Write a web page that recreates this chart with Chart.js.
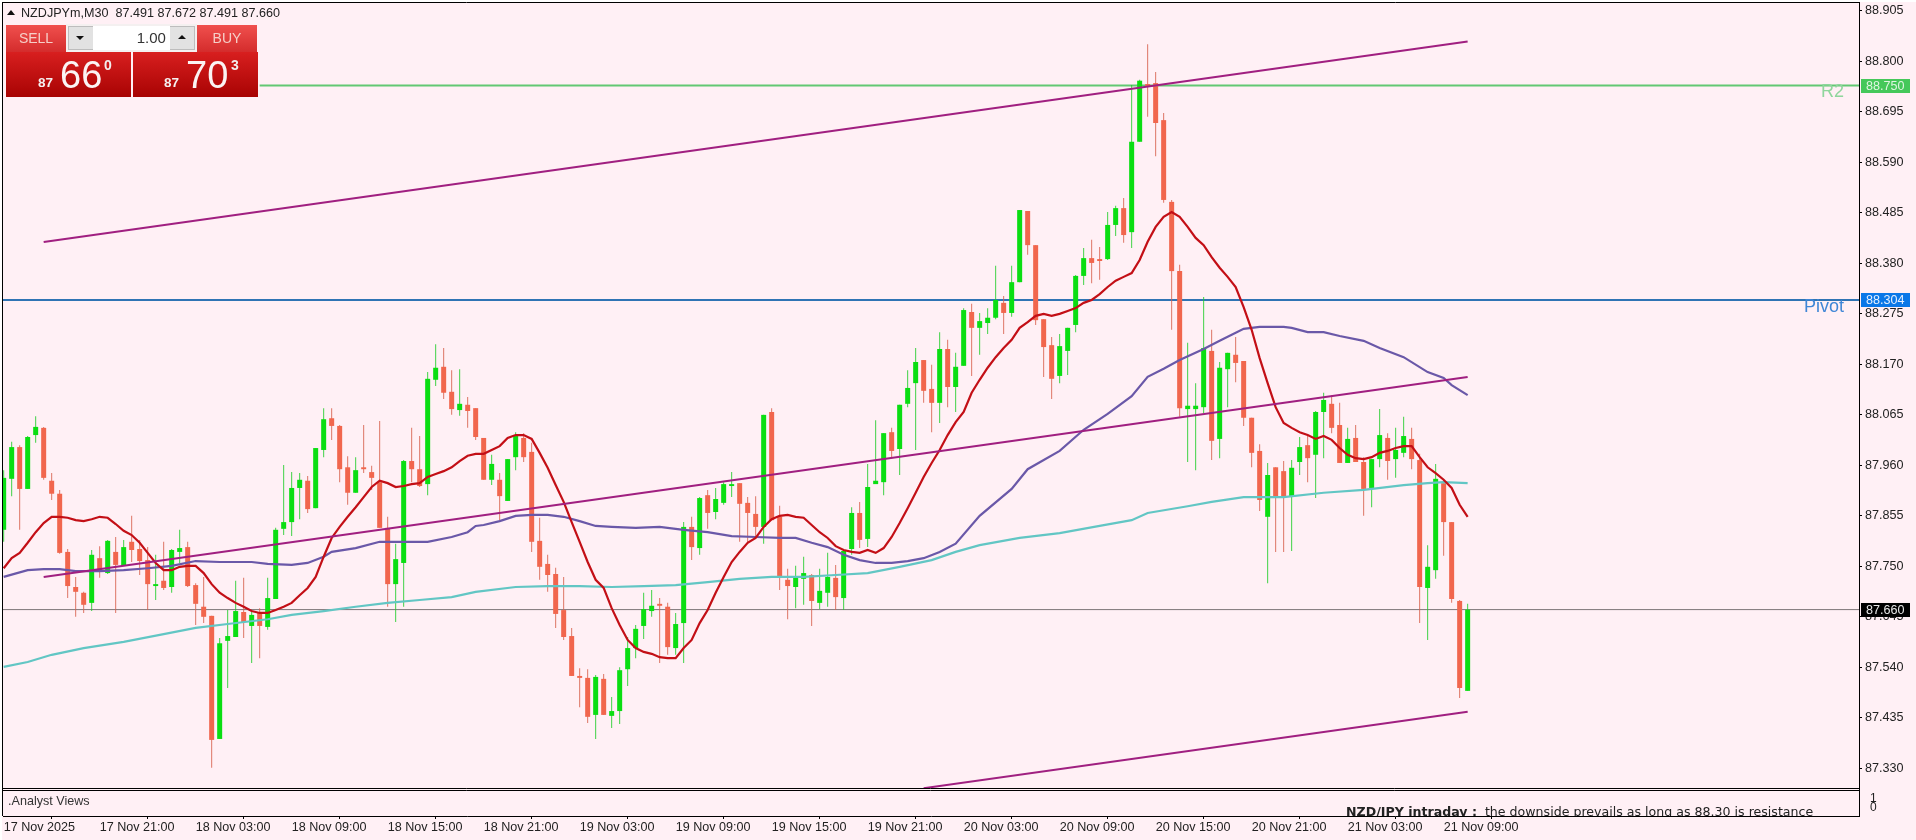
<!DOCTYPE html>
<html><head><meta charset="utf-8">
<script src="https://cdn.jsdelivr.net/npm/chart.js@4/dist/chart.umd.min.js"></script>
<style>
html,body{margin:0;padding:0;width:1916px;height:840px;overflow:hidden;background:#fff0f5;font-family:"Liberation Sans",Arial,sans-serif}
canvas{position:absolute;left:0;top:0}
.abs{position:absolute;white-space:pre}
.stripT{left:0;top:0;width:1916px;height:2px;background:#fff}
.stripL{left:0;top:0;width:2px;height:840px;background:#fff}
.title{left:21px;top:5px;font-size:12.6px;color:#222;line-height:16px}
.tri{left:7px;top:10px;width:0;height:0;border-left:4.5px solid transparent;border-right:4.5px solid transparent;border-bottom:5px solid #111}
.btnTop{background:linear-gradient(#f0504e,#d42c2c);color:#f6cfc8;font-size:14px;text-align:center;line-height:27px;height:27px;width:60px;top:25px}
.big{background:linear-gradient(#d81f1f,#a80303);height:45px;width:125px;top:52px;color:#fff}
.grey{left:66px;top:24px;width:131px;height:28px;background:#f4f0f0}
.ctl{left:68px;top:26px;width:127px;height:24px;background:#e2e2e2;border:1px solid #bdbdbd;box-sizing:border-box}
.val{left:93px;top:26px;width:77px;height:24px;background:#fff;text-align:right;font-size:15px;line-height:24px;color:#333}
.up{width:0;height:0;border-left:4px solid transparent;border-right:4px solid transparent;border-bottom:4px solid #111;left:178px;top:35px}
.dn{width:0;height:0;border-left:4px solid transparent;border-right:4px solid transparent;border-top:4px solid #111;left:76px;top:36px}
.b87{font-size:13.5px;font-weight:bold;color:#f5f0f0;top:75px}
.n66{font-size:38px;color:#fbf4f4;top:52px;line-height:46px}
.sup{font-size:14px;font-weight:bold;color:#f3eeee;top:57px}
.views{left:8px;top:794px;font-size:12.6px;color:#333;line-height:15px}
.newsClip{left:1300px;top:790px;width:559px;height:25.5px;overflow:hidden}
.news{position:absolute;left:46px;top:14px;font-family:"DejaVu Sans",sans-serif;font-size:12.6px;color:#222;white-space:pre;line-height:16px}
</style></head><body>
<canvas id="c" width="1916" height="840"></canvas>
<div class="abs stripT"></div><div class="abs stripL"></div>
<div class="abs tri"></div>
<div class="abs title">NZDJPYm,M30  87.491 87.672 87.491 87.660</div>
<div class="abs grey"></div><div class="abs ctl"></div><div class="abs val">1.00 </div>
<div class="abs up"></div><div class="abs dn"></div>
<div class="abs btnTop" style="left:6px">SELL</div>
<div class="abs btnTop" style="left:197px">BUY</div>
<div class="abs big" style="left:6px"></div>
<div class="abs big" style="left:133px"></div>
<div class="abs b87" style="left:38px">87</div>
<div class="abs n66" style="left:60px">66</div>
<div class="abs sup" style="left:104px">0</div>
<div class="abs b87" style="left:164px">87</div>
<div class="abs n66" style="left:186px">70</div>
<div class="abs sup" style="left:231px">3</div>
<div class="abs views">.Analyst Views</div>
<div class="abs newsClip"><div class="news"><b>NZD/JPY intraday :</b>  the downside prevails as long as 88.30 is resistance</div></div>
<script>
const timeTickIndex=[0,12,24,36,48,60,72,84,96,108,120,132,144,156,168,180];
const timeTickLabels=["17 Nov 2025","17 Nov 21:00","18 Nov 03:00","18 Nov 09:00","18 Nov 15:00","18 Nov 21:00","19 Nov 03:00","19 Nov 09:00","19 Nov 15:00","19 Nov 21:00","20 Nov 03:00","20 Nov 09:00","20 Nov 15:00","20 Nov 21:00","21 Nov 03:00","21 Nov 09:00"];
const priceTicks=[88.905,88.800,88.695,88.590,88.485,88.380,88.275,88.170,88.065,87.960,87.855,87.750,87.645,87.540,87.435,87.330];
const open=[87.826,87.932,87.998,87.911,88.023,88.038,87.928,87.901,87.780,87.707,87.695,87.674,87.767,87.736,87.780,87.751,87.801,87.786,87.763,87.709,87.720,87.707,87.780,87.790,87.711,87.666,87.647,87.391,87.595,87.603,87.655,87.626,87.653,87.624,87.682,87.828,87.842,87.913,87.928,87.871,87.992,88.058,88.042,87.956,87.903,87.956,87.946,87.925,87.830,87.713,87.757,87.969,87.952,87.921,88.138,88.165,88.113,88.075,88.086,88.079,
88.017,87.930,87.930,87.886,87.977,88.017,87.988,87.803,87.755,87.734,87.659,87.605,87.522,87.518,87.441,87.516,87.439,87.449,87.536,87.580,87.626,87.657,87.672,87.666,87.580,87.632,87.832,87.788,87.898,87.863,87.882,87.917,87.923,87.882,87.859,87.832,88.071,87.853,87.722,87.707,87.724,87.732,87.674,87.695,87.726,87.684,87.786,87.861,87.807,87.921,87.925,88.029,87.994,88.088,88.131,88.179,88.119,88.090,88.202,88.123,
88.167,88.279,88.246,88.256,88.267,88.298,88.277,88.341,88.489,88.418,88.264,88.210,88.146,88.198,88.252,88.354,88.391,88.389,88.389,88.460,88.495,88.445,88.633,88.753,88.755,88.678,88.508,88.364,88.077,88.077,88.081,88.198,88.015,88.160,88.190,88.177,88.059,87.990,87.853,87.956,87.948,87.896,87.967,88.002,87.982,88.071,88.088,88.044,87.965,88.017,87.967,87.913,87.973,88.017,87.973,87.986,88.015,87.971,87.705,87.742,87.923,87.842,87.678,87.491];
const high=[87.950,88.009,88.002,88.021,88.062,88.040,87.944,87.909,87.786,87.728,87.697,87.784,87.792,87.805,87.811,87.805,87.855,87.805,87.790,87.774,87.801,87.786,87.826,87.801,87.715,87.728,87.647,87.601,87.659,87.720,87.726,87.659,87.663,87.726,87.830,87.961,87.946,87.944,87.938,87.996,88.079,88.079,88.044,87.979,87.977,88.044,87.959,88.052,87.853,87.797,87.971,88.038,88.021,88.154,88.212,88.204,88.158,88.160,88.102,88.079,
88.017,87.982,87.944,87.973,88.029,88.027,88.007,87.851,87.774,87.747,87.728,87.622,87.538,87.536,87.524,87.526,87.478,87.540,87.603,87.628,87.695,87.701,87.684,87.674,87.653,87.842,87.853,87.894,87.909,87.913,87.925,87.946,87.923,87.894,87.896,88.065,88.079,87.876,87.745,87.751,87.770,87.734,87.745,87.778,87.753,87.784,87.873,87.884,87.963,88.054,88.027,88.038,88.086,88.158,88.204,88.179,88.169,88.237,88.221,88.194,
88.287,88.296,88.277,88.287,88.375,88.312,88.375,88.491,88.489,88.418,88.264,88.227,88.233,88.246,88.356,88.412,88.429,88.414,88.487,88.500,88.516,88.751,88.762,88.836,88.778,88.693,88.512,88.377,88.215,88.131,88.310,88.242,88.175,88.194,88.227,88.177,88.059,88.004,87.965,87.956,87.969,87.971,88.019,88.021,88.073,88.111,88.106,88.090,88.038,88.044,87.977,87.973,88.077,88.027,88.038,88.061,88.038,87.984,87.794,87.963,87.930,87.842,87.680,87.672];
const low=[87.801,87.896,87.826,87.911,88.007,87.930,87.888,87.776,87.684,87.645,87.653,87.657,87.726,87.734,87.653,87.751,87.759,87.732,87.659,87.680,87.701,87.695,87.757,87.707,87.628,87.632,87.331,87.391,87.497,87.603,87.601,87.549,87.559,87.618,87.682,87.815,87.813,87.848,87.861,87.871,87.977,88.013,87.925,87.878,87.903,87.944,87.909,87.830,87.666,87.634,87.666,87.925,87.915,87.898,88.125,88.098,88.065,88.063,88.038,88.013,
87.930,87.919,87.846,87.886,87.950,87.967,87.780,87.722,87.697,87.622,87.597,87.522,87.457,87.424,87.391,87.441,87.414,87.422,87.501,87.559,87.599,87.645,87.549,87.566,87.566,87.549,87.763,87.774,87.828,87.848,87.878,87.894,87.801,87.799,87.811,87.797,87.846,87.701,87.640,87.663,87.670,87.626,87.661,87.666,87.659,87.659,87.774,87.788,87.790,87.921,87.898,87.975,87.940,88.081,87.992,88.090,88.029,88.048,88.081,88.071,
88.167,88.146,88.190,88.233,88.264,88.233,88.269,88.341,88.398,88.252,88.144,88.098,88.131,88.148,88.237,88.335,88.339,88.346,88.387,88.437,88.423,88.412,88.633,88.685,88.603,88.506,88.242,88.061,87.967,87.950,88.069,87.971,87.975,88.081,88.133,88.042,87.956,87.865,87.715,87.780,87.780,87.782,87.940,87.925,87.892,87.975,88.027,87.965,87.965,87.967,87.855,87.873,87.956,87.930,87.934,87.977,87.952,87.632,87.597,87.724,87.772,87.674,87.476,87.491];
const close=[87.934,87.998,87.911,88.019,88.040,87.934,87.901,87.778,87.709,87.697,87.670,87.774,87.742,87.803,87.753,87.790,87.784,87.761,87.713,87.713,87.705,87.784,87.788,87.709,87.672,87.645,87.389,87.590,87.605,87.657,87.634,87.649,87.626,87.684,87.826,87.842,87.913,87.930,87.869,87.996,88.056,88.042,87.952,87.903,87.950,87.952,87.934,87.830,87.713,87.765,87.969,87.952,87.917,88.140,88.163,88.111,88.077,88.088,88.073,88.019,
87.930,87.963,87.896,87.973,88.021,87.977,87.801,87.749,87.732,87.651,87.603,87.522,87.518,87.437,87.520,87.441,87.449,87.534,87.580,87.620,87.661,87.668,87.668,87.582,87.630,87.832,87.790,87.892,87.861,87.890,87.921,87.921,87.880,87.861,87.832,88.065,87.846,87.726,87.709,87.726,87.736,87.678,87.699,87.728,87.686,87.782,87.861,87.805,87.915,87.928,88.027,87.990,88.086,88.121,88.175,88.115,88.090,88.202,88.123,88.165,
88.283,88.246,88.260,88.267,88.304,88.277,88.341,88.491,88.418,88.262,88.206,88.140,88.208,88.246,88.354,88.391,88.381,88.385,88.460,88.495,88.439,88.633,88.760,88.749,88.672,88.512,88.364,88.079,88.084,88.084,88.204,88.011,88.163,88.194,88.173,88.059,87.986,87.888,87.940,87.896,87.896,87.955,87.998,87.975,88.071,88.096,88.038,87.965,88.015,87.967,87.911,87.973,88.023,87.969,87.992,88.021,87.973,87.707,87.749,87.932,87.842,87.682,87.497,87.660];
const fastMA=[87.746,87.767,87.778,87.799,87.821,87.840,87.853,87.853,87.851,87.846,87.844,87.848,87.853,87.851,87.838,87.824,87.815,87.799,87.778,87.757,87.742,87.742,87.749,87.751,87.751,87.736,87.713,87.695,87.684,87.674,87.666,87.657,87.653,87.653,87.659,87.666,87.674,87.690,87.705,87.728,87.770,87.809,87.832,87.853,87.873,87.894,87.915,87.928,87.923,87.915,87.917,87.921,87.923,87.936,87.942,87.948,87.956,87.969,87.980,87.984,
87.984,87.992,88.000,88.017,88.023,88.023,88.015,87.986,87.955,87.919,87.884,87.842,87.801,87.759,87.722,87.705,87.663,87.628,87.597,87.580,87.572,87.568,87.561,87.559,87.559,87.580,87.597,87.632,87.659,87.695,87.728,87.759,87.780,87.799,87.809,87.832,87.848,87.855,87.857,87.853,87.851,87.836,87.821,87.809,87.792,87.784,87.780,87.778,87.784,87.778,87.788,87.811,87.840,87.871,87.903,87.936,87.965,87.992,88.023,88.050,
88.071,88.111,88.138,88.163,88.185,88.204,88.221,88.246,88.258,88.271,88.275,88.271,88.275,88.281,88.287,88.298,88.304,88.316,88.331,88.344,88.352,88.360,88.387,88.425,88.456,88.477,88.487,88.477,88.456,88.433,88.418,88.393,88.371,88.352,88.331,88.289,88.242,88.183,88.131,88.081,88.048,88.038,88.029,88.023,88.015,88.021,88.013,87.996,87.982,87.975,87.973,87.977,87.986,87.990,87.996,88.000,88.000,87.977,87.956,87.944,87.930,87.913,87.878,87.853];
const midMAIndex=[0,3,5,7,9,12,15,18,21,24,27,31,33,36,38,40,41,44,47,50,53,56,58,59,60,62,64,66,68,70,72,74,76,79,82,85,88,91,94,97,99,101,103,105,107,109,111,113,115,117,119,122,126,128,132,135,138,141,143,145,147,150,152,155,157,160,161,163,165,167,170,172,175,178,180,181,183];
const midMA=[87.728,87.742,87.744,87.744,87.740,87.740,87.742,87.746,87.751,87.761,87.759,87.759,87.755,87.753,87.757,87.770,87.780,87.788,87.801,87.801,87.801,87.811,87.821,87.834,87.836,87.844,87.855,87.857,87.857,87.853,87.844,87.834,87.832,87.830,87.832,87.826,87.821,87.813,87.811,87.809,87.809,87.799,87.790,87.774,87.763,87.757,87.757,87.761,87.767,87.780,87.797,87.855,87.911,87.952,87.990,88.034,88.067,88.104,88.144,88.161,88.179,88.202,88.219,88.244,88.248,88.248,88.246,88.237,88.237,88.229,88.219,88.204,88.185,88.154,88.142,88.127,88.106];
const slowMAIndex=[0,3,6,10,15,20,24,28,33,36,40,44,48,52,56,59,64,68,72,76,80,84,88,92,96,100,104,108,112,116,119,122,127,132,137,141,143,148,151,155,160,165,170,175,178,180,183];
const slowMA=[87.541,87.551,87.566,87.580,87.593,87.609,87.622,87.630,87.640,87.649,87.657,87.666,87.674,87.680,87.686,87.697,87.707,87.709,87.709,87.707,87.709,87.711,87.717,87.724,87.728,87.728,87.732,87.736,87.749,87.763,87.780,87.794,87.809,87.819,87.834,87.846,87.861,87.875,87.884,87.894,87.894,87.903,87.909,87.919,87.923,87.925,87.923];
const trendIndex=[5,183];
const trendUpper=[88.4245,88.8416];
const trendMiddle=[87.7278,88.1438];
const lowerIndex=[115,183];
const trendLower=[87.2886,87.4477];
const levelR2=88.750, levelPivot=88.304, lastPrice=87.660;
const r2Start=32;
const xMin=-0.084, xMax=231.92;

const xy=(xs,ys)=>xs.map((x,i)=>({x,y:ys[i]}));
const idx=open.map((_,i)=>i);
const candleColors=idx.map(i=>close[i]>=open[i]?'#0ade12':'#f1664d');
const wickColors=idx.map(i=>close[i]>=open[i]?'rgba(30,205,40,.85)':'rgba(215,95,75,.85)');
const bar=(data,colors,w,order)=>({type:'bar',data,backgroundColor:colors,grouped:false,maxBarThickness:w,barPercentage:1,categoryPercentage:1,borderWidth:0,inflateAmount:0,order,yAxisID:'y'});
const line=(data,color,w,order)=>({type:'line',data,borderColor:color,borderWidth:w,pointRadius:0,tension:0,fill:false,order,yAxisID:'y'});

const panesPlugin={id:'panes',afterLayout(ch){
  const y=ch.scales.y,y2=ch.scales.y2;
  y.top=3;y.bottom=789;y.height=786;y.configure();
  y2.top=789;y2.bottom=816;y2.height=27;y2.configure();
}};
const labelsPlugin={id:'levels',afterDraw(ch){
  const c=ch.ctx,y=ch.scales.y,y2=ch.scales.y2,a=ch.chartArea;
  c.save();
  c.strokeStyle='#000';c.lineWidth=1;
  const h=(v,x0,x1)=>{c.beginPath();c.moveTo(x0,v);c.lineTo(x1,v);c.stroke();};
  h(2.5,2,a.right+1);
  h(Math.round(y.bottom)-0.5,2,a.right);
  h(Math.round(y2.top)+1.5,2,a.right);
  c.beginPath();c.moveTo(2.5,2);c.lineTo(2.5,y2.bottom);c.stroke();
  c.beginPath();c.moveTo(a.right+0.5,2);c.lineTo(a.right+0.5,y2.bottom);c.stroke();
  c.font='12.6px "Liberation Sans"';c.textBaseline='middle';c.textAlign='left';
  [[levelR2,'#45c85a','#dff5e0'],[levelPivot,'#0a78e8','#e4f0ff'],[lastPrice,'#000','#e8e8e8']].forEach(([v,bg,fg])=>{
    const p=Math.round(y.getPixelForValue(v));
    c.fillStyle=bg;c.fillRect(a.right+2,p-7,49,14);
    c.fillStyle=fg;c.fillText(v.toFixed(3),a.right+7,p+0.5);
  });
  c.font='18px "Liberation Sans"';c.textAlign='right';
  c.fillStyle='#8fd69c';c.fillText('R2',a.right-15,y.getPixelForValue(levelR2)+7);
  c.fillStyle='#3f86d6';c.fillText('Pivot',a.right-15,y.getPixelForValue(levelPivot)+7);
  c.restore();
}};

new Chart(document.getElementById('c'),{
  data:{datasets:[
    line(xy([xMin,xMax],[lastPrice,lastPrice]),'#7d7678',1,9),
    line(xy([r2Start,xMax],[levelR2,levelR2]),'#62c873',2,8),
    line(xy([xMin,xMax],[levelPivot,levelPivot]),'#2f74b4',2,8),
    bar(xy(idx,idx.map(i=>[low[i],high[i]])),wickColors,1,7),
    bar(xy(idx,idx.map(i=>[open[i],close[i]])),candleColors,5,6),
    line(xy(idx,fastMA),'#c30f16',2.2,3),
    line(xy(midMAIndex,midMA),'#6a58a8',2.2,4),
    line(xy(slowMAIndex,slowMA),'#62c6c4',2.2,5),
    line(xy(trendIndex,trendUpper),'#a01f80',2.1,2),
    line(xy(trendIndex,trendMiddle),'#a01f80',2.1,2),
    line(xy(lowerIndex,trendLower),'#a01f80',2.1,2)
  ]},
  options:{
    responsive:false,animation:false,events:[],
    layout:{autoPadding:false,padding:{left:3,top:3,right:0,bottom:0}},
    plugins:{legend:{display:false},tooltip:{enabled:false},title:{display:false}},
    scales:{
      x:{type:'linear',position:'bottom',min:xMin,max:xMax,offset:false,
        afterFit(s){s.height=24;},
        afterBuildTicks(s){s.ticks=timeTickIndex.map(v=>({value:v}));},
        grid:{display:true,drawOnChartArea:false,drawTicks:true,tickLength:3,color:'#000'},
        border:{display:true,color:'#000'},
        ticks:{align:'start',autoSkip:false,maxRotation:0,minRotation:0,padding:1,color:'#222',
          font:{family:'Liberation Sans',size:12.6},
          callback:v=>timeTickLabels[timeTickIndex.indexOf(v)]}},
      y:{type:'linear',position:'right',stack:'panes',stackWeight:786,min:87.2869,max:88.9216,
        afterFit(s){s.width=57;},
        afterBuildTicks(s){s.ticks=priceTicks.map(v=>({value:v}));},
        grid:{display:true,drawOnChartArea:false,tickLength:3,color:'#000'},
        border:{display:true,color:'#000'},
        ticks:{autoSkip:false,padding:3,color:'#222',font:{family:'Liberation Sans',size:12.6},callback:v=>v.toFixed(3)}},
      y2:{type:'linear',position:'right',stack:'panes',stackWeight:27,min:-0.889,max:2.11,
        afterFit(s){s.width=57;},
        afterBuildTicks(s){s.ticks=[{value:0},{value:1}];},
        grid:{display:false},
        border:{display:true,color:'#000'},
        ticks:{autoSkip:false,padding:3,color:'#222',font:{family:'Liberation Sans',size:12},callback:v=>String(v)}}
    }
  },
  plugins:[panesPlugin,labelsPlugin]
});
</script>
</body></html>
